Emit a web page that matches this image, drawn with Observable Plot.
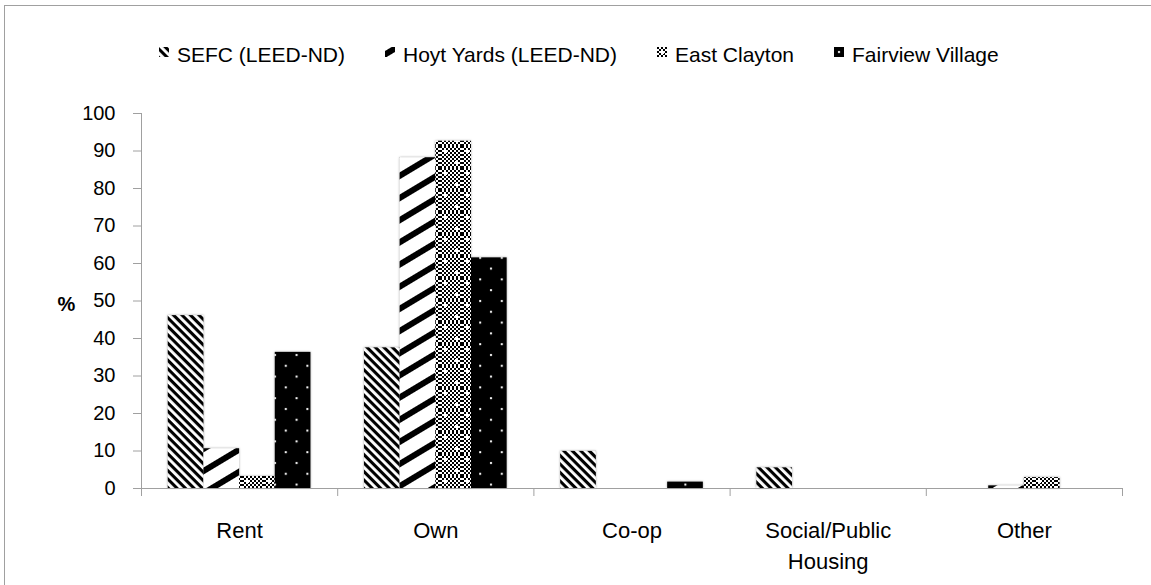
<!DOCTYPE html>
<html>
<head>
<meta charset="utf-8">
<script src="https://cdn.jsdelivr.net/npm/d3@7"></script>
<script src="https://cdn.jsdelivr.net/npm/@observablehq/plot@0.6"></script>
<style>
  html, body { margin: 0; padding: 0; background: #fff; }
  body { width: 1151px; height: 585px; overflow: hidden; position: relative; color: #000; }
  #frame { position: absolute; left: 4px; top: 5px; width: 1300px; height: 800px;
           border-left: 1px solid #a0a0a0; border-top: 1px solid #a0a0a0; pointer-events: none; }
  #legend { height: 80px; box-sizing: border-box; padding-top: 43px; padding-left: 159px;
            display: flex; gap: 40px; line-height: 24px; white-space: nowrap; }
  .item { display: flex; align-items: flex-start; gap: 8px; }
  .item svg { margin-top: 4px; display: block; }
  #chart svg { display: block; }
  #chart g[aria-label="rect"] { filter: drop-shadow(0 0 1.2px rgba(0,0,0,0.35)); }
</style>
</head>
<body>
<svg width="0" height="0" style="position:absolute">
  <defs>
    <pattern id="p-sefc" patternUnits="userSpaceOnUse" width="6" height="6" patternTransform="rotate(45)">
      <rect width="6" height="6" fill="#fff"/>
      <rect width="6" height="3.1" fill="#000"/>
    </pattern>
    <pattern id="p-hoyt" patternUnits="userSpaceOnUse" width="20" height="19" patternTransform="rotate(-31)">
      <rect width="20" height="19" fill="#fff"/>
      <rect width="20" height="6" fill="#000"/>
    </pattern>
    <pattern id="p-hoyt-key" patternUnits="userSpaceOnUse" width="20" height="19" patternTransform="translate(0,4) rotate(-31)">
      <rect width="20" height="19" fill="#fff"/>
      <rect width="20" height="6" fill="#000"/>
    </pattern>
    <pattern id="p-checker" patternUnits="userSpaceOnUse" width="4" height="4">
      <rect width="4" height="4" fill="#fff"/>
      <rect width="2" height="2" fill="#000"/>
      <rect x="2" y="2" width="2" height="2" fill="#000"/>
    </pattern>
    <pattern id="p-ec" patternUnits="userSpaceOnUse" width="22" height="22">
      <rect width="22" height="22" fill="url(#p-checker)"/>
      <rect x="4" y="4" width="3" height="3" fill="#fff"/>
      <rect x="15" y="15" width="3" height="3" fill="#fff"/>
    </pattern>
    <pattern id="p-fv" patternUnits="userSpaceOnUse" width="21.6" height="21.6">
      <rect width="21.6" height="21.6" fill="#000"/>
      <rect x="4" y="4" width="2" height="2" fill="#fff"/>
      <rect x="14.8" y="14.8" width="2" height="2" fill="#fff"/>
    </pattern>
  </defs>
</svg>
<div id="frame"></div>
<div id="legend"></div>
<div id="chart"></div>
<script>
// ---- data ----
const categories = ["Rent", "Own", "Co-op", "Social/Public Housing", "Other"];
const tickLabels = ["Rent", "Own", "Co-op", "Social/Public\nHousing", "Other"];
const series = ["SEFC (LEED-ND)", "Hoyt Yards (LEED-ND)", "East Clayton", "Fairview Village"];
const sefc        = [46.1, 37.5, 9.9, 5.5, 0];
const hoytYards   = [10.6, 88.2, 0, 0, 0.7];
const eastClayton = [3.2, 92.6, 0, 0, 2.9];
const fairview    = [36.3, 61.5, 1.7, 0, 0];
const yTicks = [0, 10, 20, 30, 40, 50, 60, 70, 80, 90, 100];

// ---- styling ----
const seriesValues = [sefc, hoytYards, eastClayton, fairview];
const fills = ["url(#p-sefc)", "url(#p-hoyt)", "url(#p-ec)", "url(#p-fv)"];
const keyFills = ["url(#p-sefc)", "url(#p-hoyt-key)", "url(#p-ec)", "url(#p-fv)"];
const gapWidth = 1.5;                       // Excel-style gap width (in bar widths)
const barW = 1 / (series.length + gapWidth);
const axisGray = "#a0a0a0";
const fontFamily = "'Liberation Sans', Arial, sans-serif";

const rows = categories.flatMap((c, i) =>
  series.map((s, j) => ({i, j, category: c, series: s, value: seriesValues[j][i]})));

// legend
const legend = d3.select("#legend").style("font-family", fontFamily).style("font-size", "21px");
series.forEach((s, j) => {
  const it = legend.append("div").attr("class", "item");
  const sw = it.append("svg").attr("width", 10).attr("height", 10);
  sw.append("rect").attr("width", 10).attr("height", 10).attr("fill", keyFills[j]);
  it.append("span").text(s);
});

const chart = Plot.plot({
  width: 1151,
  height: 505,
  marginLeft: 141,
  marginRight: 29,
  marginTop: 33,
  marginBottom: 97,
  style: {fontFamily, color: "#000", background: "#fff", overflow: "visible"},
  x: {domain: [0, categories.length]},
  y: {domain: [0, 100]},
  color: {domain: series, range: fills},
  marks: [
    Plot.rectY(rows, {
      x1: d => d.i + barW * gapWidth / 2 + d.j * barW,
      x2: d => d.i + barW * gapWidth / 2 + (d.j + 1) * barW,
      y1: 0,
      y2: "value",
      fill: "series"
    }),
    Plot.ruleX([0], {y1: 0, y2: 100, stroke: axisGray}),
    Plot.ruleY([0], {stroke: axisGray}),
    Plot.axisY({ticks: yTicks, tickSize: 8, tickPadding: 18, stroke: axisGray, fill: "#000",
                fontSize: 20, label: null}),
    Plot.axisX({ticks: d3.range(0, categories.length + 1), tickSize: 8, tickFormat: () => "",
                stroke: axisGray, label: null}),
    Plot.axisX({ticks: categories.map((c, i) => i + 0.5), tickSize: 0, tickPadding: 28,
                tickFormat: d => tickLabels[Math.floor(d)], fontSize: 22, lineHeight: 1.4,
                fill: "#000", label: null}),
    Plot.text(["%"], {frameAnchor: "left", text: d => d, dx: -84, dy: 4,
                      fontWeight: "bold", fontSize: 20, fill: "#000"})
  ]
});
document.getElementById("chart").append(chart);
</script>
</body>
</html>
